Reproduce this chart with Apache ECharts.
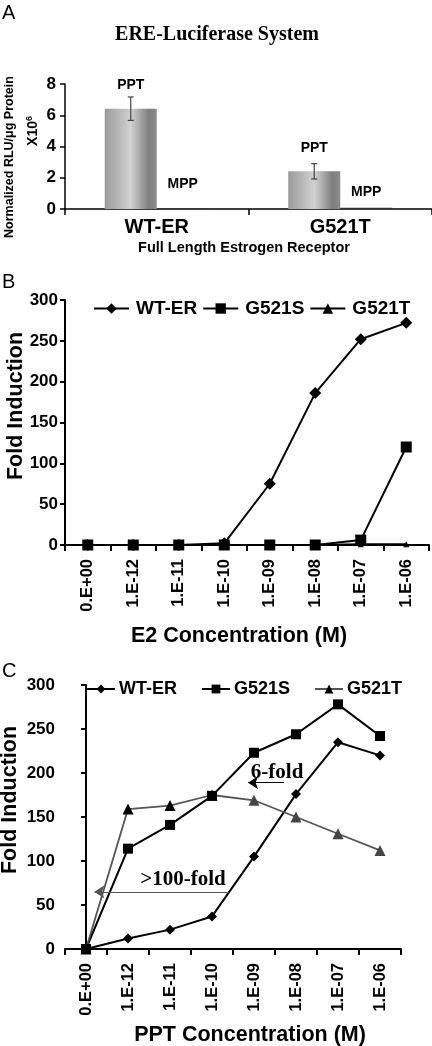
<!DOCTYPE html>
<html><head><meta charset="utf-8">
<script src="https://cdn.jsdelivr.net/npm/echarts@6/dist/echarts.min.js"></script>
<style>html,body{margin:0;padding:0;background:#fff}#c{width:432px;height:1046px}</style>
</head><body><div id="c"></div>
<script>
// ---- Panel A data ----
const receptors = ['WT-ER', 'G521T'];
const pptValues = [6.42, 2.41];
const pptErrors = [0.75, 0.49];
const mppValues = [0.04, 0.08];
const axisATicks = [0, 2, 4, 6, 8];

// ---- Panels B / C data ----
const concentrations = ['0.E+00', '1.E-12', '1.E-11', '1.E-10', '1.E-09', '1.E-08', '1.E-07', '1.E-06'];
const foldTicks = [0, 50, 100, 150, 200, 250, 300];
const e2WT   = [0, 0, 0, 2, 75, 186, 252, 272];
const e2S    = [0, 0, 0, 0, 0, 0, 6, 120];
const e2T    = [0, 0, 0, 0, 0, 0, 1, 1];
const pptWT  = [0, 12, 22, 37, 105, 176, 235, 220];
const pptS   = [0, 114, 141, 174, 223, 244, 278, 242];
const pptT   = [0, 159, 163, 175, 169, 150, 131, 112];
// annotations in panel C, in (category index, fold) units
const arrow100 = [[3.4, 65], [0.2, 65]];
const arrow6   = [[4.71, 189], [3.86, 189]];
const label100 = [2.31, 79, '>100-fold'];
const label6   = [4.55, 201, '6-fold'];

const SANS = 'Liberation Sans, Arial, sans-serif';
const SERIF = 'Liberation Serif, Times New Roman, serif';
const chart = echarts.init(document.getElementById('c'), null, {renderer: 'canvas'});

const gradient = new echarts.graphic.LinearGradient(0, 0, 1, 0, [
  {offset: 0, color: '#9a9a9a'},
  {offset: 0.5, color: '#d2d2d2'},
  {offset: 0.85, color: '#7e7e7e'},
  {offset: 1, color: '#8c8c8c'}
]);

function yAxisCfg(grid, ticks, margin, lw) {
  return {
    type: 'value', gridIndex: grid, min: ticks[0], max: ticks[ticks.length - 1],
    interval: ticks[1] - ticks[0],
    axisLine: {show: true, lineStyle: {color: '#000', width: lw}},
    axisTick: {show: true, length: 5, lineStyle: {color: '#000', width: lw}},
    splitLine: {show: false},
    axisLabel: {color: '#000', fontFamily: SANS, fontWeight: 'bold', fontSize: 17, margin: margin}
  };
}
function xCatCfg(grid) {
  return {
    type: 'category', gridIndex: grid, data: concentrations, boundaryGap: true,
    axisLine: {show: true, lineStyle: {color: '#000', width: 2}},
    axisTick: {show: true, length: 6, interval: 0, lineStyle: {color: '#000', width: 2}},
    axisLabel: {rotate: 90, interval: 0, color: '#000', fontFamily: SANS, fontWeight: 'bold', fontSize: 16.5, margin: 14}
  };
}
function lineSeries(name, data, xi, yi, symbol, size, extra) {
  return Object.assign({
    type: 'line', name: name, data: data, xAxisIndex: xi, yAxisIndex: yi,
    symbol: symbol, symbolSize: size, showSymbol: true,
    lineStyle: {color: '#000', width: 2}, itemStyle: {color: '#000'},
    emphasis: {disabled: true}
  }, extra || {});
}
const legendText = {fontFamily: SANS, fontWeight: 'bold', color: '#000'};

const option = {
  animation: false,
  backgroundColor: '#fff',
  grid: [
    {left: 65, right: 0, top: 84, height: 125},
    {left: 65, right: 3, top: 300, height: 245},
    {left: 65, right: 31, top: 685, height: 264}
  ],
  legend: [
    {left: 88, top: 294, itemWidth: 35, itemHeight: 13, itemGap: 5,
     data: ['WT-ER', 'G521S', 'G521T'],
     textStyle: Object.assign({fontSize: 19, padding: [0, 0, 0, 2]}, legendText)},
    {left: 81, top: 675, itemWidth: 28, itemHeight: 11, itemGap: 24,
     data: ['WT-ER ', 'G521S ', 'G521T '],
     formatter: n => n.trim(),
     textStyle: Object.assign({fontSize: 18, padding: [0, 0, 0, -1]}, legendText)}
  ],
  xAxis: [
    {type: 'category', gridIndex: 0, data: receptors, boundaryGap: true,
     axisLine: {show: true, lineStyle: {color: '#000', width: 1.5}},
     axisTick: {show: true, length: 6, lineStyle: {color: '#000', width: 1.5}},
     axisLabel: {color: '#000', fontFamily: SANS, fontWeight: 'bold', fontSize: 20, margin: 8}},
    xCatCfg(1),
    xCatCfg(2),
    {type: 'value', gridIndex: 2, min: -0.5, max: 7.5, show: false}
  ],
  yAxis: [
    yAxisCfg(0, axisATicks, 9, 1.5),
    yAxisCfg(1, foldTicks, 7, 2),
    yAxisCfg(2, foldTicks, 10, 2)
  ],
  series: [
    {type: 'bar', name: 'PPT', xAxisIndex: 0, yAxisIndex: 0, barWidth: 52, barGap: '0%',
     data: pptValues.map((v, i) => ({value: v, label: {distance: i === 0 ? 17 : 16}})),
     itemStyle: {color: gradient},
     label: {show: true, position: 'top', formatter: '{a}', color: '#000', fontFamily: SANS, fontWeight: 'bold', fontSize: 14},
     emphasis: {disabled: true}},
    {type: 'bar', name: 'MPP', xAxisIndex: 0, yAxisIndex: 0, barWidth: 52, barGap: '0%',
     data: mppValues.map((v, i) => ({value: v, label: {distance: i === 0 ? 17 : 9}})),
     itemStyle: {color: '#333'},
     label: {show: true, position: 'top', formatter: '{a}', color: '#000', fontFamily: SANS, fontWeight: 'bold', fontSize: 14},
     emphasis: {disabled: true}},
    {type: 'custom', name: 'err', xAxisIndex: 0, yAxisIndex: 0, z: 5,
     data: pptValues.map((v, i) => [i, v, pptErrors[i]]),
     encode: {x: 0, y: 1},
     renderItem: function (params, api) {
       const x = api.coord([api.value(0), 0])[0] - 26;
       const hi = api.coord([api.value(0), api.value(1) + api.value(2)])[1];
       const lo = api.coord([api.value(0), api.value(1) - api.value(2)])[1];
       const st = {stroke: '#444', lineWidth: 1.2};
       return {type: 'group', children: [
         {type: 'line', shape: {x1: x, y1: hi, x2: x, y2: lo}, style: st},
         {type: 'line', shape: {x1: x - 3, y1: hi, x2: x + 3, y2: hi}, style: st},
         {type: 'line', shape: {x1: x - 3, y1: lo, x2: x + 3, y2: lo}, style: st}
       ]};
     }},
    // Panel B
    lineSeries('WT-ER', e2WT, 1, 1, 'diamond', 12),
    lineSeries('G521S', e2S, 1, 1, 'rect', 11),
    lineSeries('G521T', e2T, 1, 1, 'triangle', 6),
    // Panel C
    lineSeries('WT-ER ', pptWT, 2, 2, 'diamond', 10),
    lineSeries('G521S ', pptS, 2, 2, 'rect', 10),
    lineSeries('G521T ', pptT.map((v, i) => ({value: v, itemStyle: {color: i < 4 ? '#000' : '#444'}})), 2, 2, 'triangle', 11,
      {lineStyle: {color: '#555', width: 1.8}}),
    {type: 'line', name: 'annot', xAxisIndex: 3, yAxisIndex: 2, data: [], silent: true, z: 6,
     markLine: {silent: true, symbol: ['none', 'arrow'], symbolSize: 10, label: {show: false},
       data: [
         [{coord: arrow100[0], lineStyle: {color: '#555', width: 1.2, type: 'solid'}, itemStyle: {color: '#555'}}, {coord: arrow100[1]}],
         [{coord: arrow6[0], lineStyle: {color: '#000', width: 1.2, type: 'solid'}, itemStyle: {color: '#000'}}, {coord: arrow6[1]}]
       ]},
     markPoint: {silent: true, symbol: 'rect', symbolSize: 1, itemStyle: {color: 'transparent'},
       label: {show: true, position: 'inside', formatter: '{b}', color: '#000', fontFamily: SERIF, fontWeight: 'bold', fontSize: 21},
       data: [
         {name: label100[2], coord: [label100[0], label100[1]]},
         {name: label6[2], coord: [label6[0], label6[1]]}
       ]}}
  ],
  graphic: [
    {type: 'text', x: 2, y: 13, style: {text: 'A', font: '20px ' + SANS, fill: '#000', verticalAlign: 'middle'}},
    {type: 'text', x: 2, y: 282, style: {text: 'B', font: '20px ' + SANS, fill: '#000', verticalAlign: 'middle'}},
    {type: 'text', x: 2, y: 671, style: {text: 'C', font: '20px ' + SANS, fill: '#000', verticalAlign: 'middle'}},
    {type: 'text', x: 217, y: 35, style: {text: 'ERE-Luciferase System', font: 'bold 20px ' + SERIF, fill: '#000', align: 'center', verticalAlign: 'middle'}},
    {type: 'text', x: 10, y: 157, rotation: Math.PI / 2, style: {text: 'Normalized RLU/μg Protein', font: 'bold 12.5px ' + SANS, fill: '#000', align: 'center', verticalAlign: 'middle'}},
    {type: 'text', x: 33, y: 131, rotation: Math.PI / 2, style: {text: 'X10{s|6}', font: 'bold 14px ' + SANS, fill: '#000', align: 'center', verticalAlign: 'middle',
      rich: {s: {fontSize: 9, fontWeight: 'bold', fontFamily: SANS, verticalAlign: 'top', padding: [0, 0, 6, 0]}}}},
    {type: 'text', x: 244, y: 248, style: {text: 'Full Length Estrogen Receptor', font: 'bold 14.5px ' + SANS, fill: '#000', align: 'center', verticalAlign: 'middle'}},
    {type: 'text', x: 16, y: 406, rotation: Math.PI / 2, style: {text: 'Fold Induction', font: 'bold 21.5px ' + SANS, fill: '#000', align: 'center', verticalAlign: 'middle'}},
    {type: 'text', x: 239, y: 636, style: {text: 'E2 Concentration (M)', font: 'bold 21.5px ' + SANS, fill: '#000', align: 'center', verticalAlign: 'middle'}},
    {type: 'text', x: 10, y: 800, rotation: Math.PI / 2, style: {text: 'Fold Induction', font: 'bold 21.5px ' + SANS, fill: '#000', align: 'center', verticalAlign: 'middle'}},
    {type: 'text', x: 250, y: 1035, style: {text: 'PPT Concentration (M)', font: 'bold 21.5px ' + SANS, fill: '#000', align: 'center', verticalAlign: 'middle'}}
  ]
};
chart.setOption(option);
</script>
</body></html>
